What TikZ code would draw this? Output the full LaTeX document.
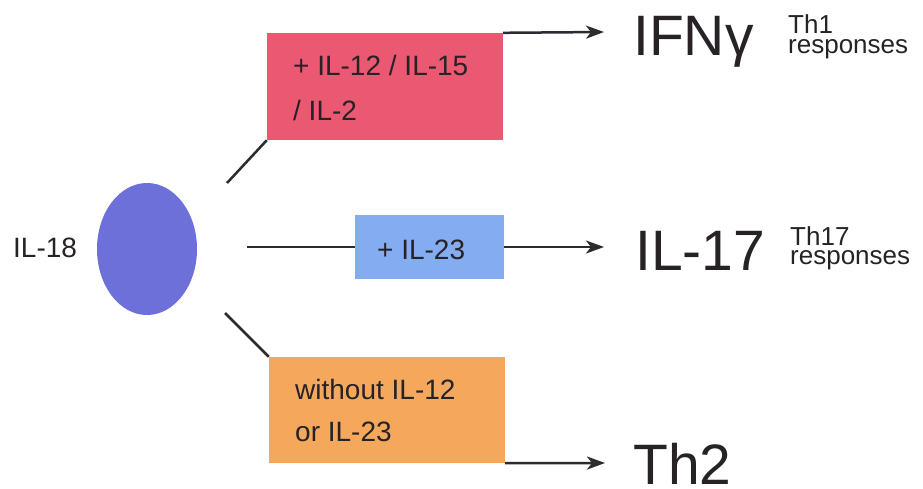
\documentclass[tikz,border=0pt]{standalone}
\usepackage{fontspec}
\setmainfont{Liberation Sans}
\usetikzlibrary{arrows.meta,shapes.geometric}
\definecolor{pinkbox}{RGB}{234,88,114}
\definecolor{bluebox}{RGB}{132,172,240}
\definecolor{orangebox}{RGB}{245,168,92}
\definecolor{cellcol}{RGB}{110,112,218}
\definecolor{ink}{RGB}{38,34,38}
\definecolor{linecol}{RGB}{45,42,48}
\begin{document}
\begin{tikzpicture}[x=1pt,y=-1pt,
  box/.style={draw=none, rectangle, inner sep=0},
  txt/.style={anchor=base west, inner sep=0, text=ink, font=\fontsize{28}{30}\selectfont},
  bigtxt/.style={anchor=base west, inner sep=0, text=ink, font=\fontsize{57}{60}\selectfont},
  smalltxt/.style={anchor=base west, inner sep=0, text=ink, font=\fontsize{26}{28}\selectfont},
  conn/.style={draw=linecol, line width=2.5pt},
  arr/.style={conn, -{Stealth[length=18pt,width=13pt,inset=5pt]}}]
\useasboundingbox (0,0) rectangle (923,488);
\fill[white] (0,0) rectangle (923,488);

% cell
\node[ellipse, fill=cellcol, minimum width=100pt, minimum height=132pt, inner sep=0] (cell) at (147,249) {};
\node[txt] (il18) at (13,257) {IL-18};

% boxes
\node[box, fill=pinkbox, minimum width=236pt, minimum height=107pt] (pink) at (385,86.5) {};
\node[box, fill=bluebox, minimum width=149pt, minimum height=64pt] (blue) at (429.5,247) {};
\node[box, fill=orangebox, minimum width=236pt, minimum height=106pt] (orange) at (387,410) {};

\node[txt] (p1) at (293,75) {+ IL-12 / IL-15};
\node[txt] (p2) at (293,120) {/ IL-2};
\node[txt] (b1) at (377,259) {+ IL-23};
\node[txt] (o1) at (295,399) {without IL-12};
\node[txt] (o2) at (295,441) {or IL-23};

% outputs
\node[bigtxt] (ifn) at (633,55) {IFNγ};
\node[smalltxt] (th1) at (788,33) {Th1};
\node[smalltxt] (th1r) at (788,53) {responses};
\node[bigtxt] (il17) at (635,270) {IL-17};
\node[smalltxt] (th17) at (790,245) {Th17};
\node[smalltxt] (th17r) at (790,264) {responses};
\node[bigtxt] (th2) at (633,484) {Th2};

% connector ends
\coordinate (s1) at (227,183);
\coordinate (s2) at (247,247);
\coordinate (s3) at (225,313);
\coordinate (t1) at (604,32);
\coordinate (t2) at (604,247);
\coordinate (t3) at (605,463);

\draw[conn] (s1) -- (pink.south west);
\draw[conn] (s2) -- (blue.west);
\draw[conn] (s3) -- (orange.north west);
\draw[arr] (pink.north east) -- (t1);
\draw[arr] (blue.east) -- (t2);
\draw[arr] (orange.south east) -- (t3);
\end{tikzpicture}
\end{document}
